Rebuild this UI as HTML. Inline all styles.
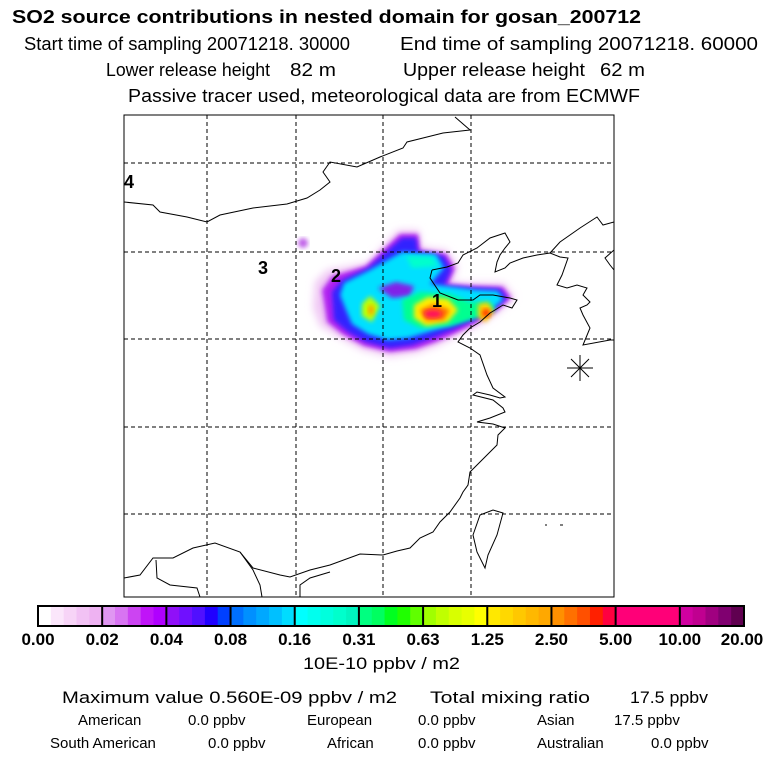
<!DOCTYPE html>
<html><head><meta charset="utf-8">
<style>
body{margin:0;background:#fff;width:768px;height:768px;overflow:hidden;font-family:"Liberation Sans",sans-serif;}
svg{position:absolute;left:0;top:0}
</style></head>
<body>
<svg width="768" height="768" viewBox="0 0 768 768">
<defs>
<filter id="bl" x="-20%" y="-20%" width="140%" height="140%"><feGaussianBlur stdDeviation="2.5"/></filter>
<filter id="bl2" x="-20%" y="-20%" width="140%" height="140%"><feGaussianBlur stdDeviation="4"/></filter>
<clipPath id="mapclip"><rect x="124" y="115" width="490" height="482"/></clipPath>
</defs>
<g font-family="Liberation Sans, sans-serif" fill="#000">
<text x="12" y="23" font-size="18" font-weight="bold" textLength="629" lengthAdjust="spacingAndGlyphs">SO2 source contributions in nested domain for gosan_200712</text>
<text x="24" y="50" font-size="18" textLength="326" lengthAdjust="spacingAndGlyphs">Start time of sampling 20071218. 30000</text>
<text x="400" y="50" font-size="18" textLength="358" lengthAdjust="spacingAndGlyphs">End time of sampling 20071218. 60000</text>
<text x="106" y="76" font-size="18" textLength="164" lengthAdjust="spacingAndGlyphs">Lower release height</text>
<text x="290" y="76" font-size="18" textLength="46" lengthAdjust="spacingAndGlyphs">82 m</text>
<text x="403" y="76" font-size="18" textLength="182" lengthAdjust="spacingAndGlyphs">Upper release height</text>
<text x="600" y="76" font-size="18" textLength="45" lengthAdjust="spacingAndGlyphs">62 m</text>
<text x="128" y="102" font-size="18" textLength="512" lengthAdjust="spacingAndGlyphs">Passive tracer used, meteorological data are from ECMWF</text>
</g>

<g clip-path="url(#mapclip)">
<g>
<polygon filter="url(#bl2)" fill="#f0c8f4" points="315,282 327,270 367,263 398,230 419,230 422,247 447,250 458,267 452,282 470,283 504,283 515,298 498,313 478,326 457,336 437,346 417,353 390,357 362,350 338,337 320,326 313,308"/>
<circle cx="303" cy="243" r="5" fill="#c060e8" filter="url(#bl)"/>
<polygon filter="url(#bl)" fill="#b020f0" points="322,290 332,276 366,266 400,234 418,234 420,250 446,254 455,268 448,284 472,286 503,287 511,298 496,311 476,323 456,333 436,342 416,349 390,352 364,346 342,334 327,322"/>
<polygon filter="url(#bl)" fill="#3020ff" points="332,292 342,280 368,268 402,238 416,238 418,252 444,256 451,270 444,286 474,288 500,289 507,298 494,309 474,320 452,330 432,338 412,345 390,348 366,342 348,332 334,320"/>
<polygon filter="url(#bl)" fill="#00e0ff" points="340,295 344,283 370,270 402,252 436,254 444,268 430,284 476,290 498,291 503,300 488,312 470,318 448,326 428,332 408,338 388,340 368,334 352,324 346,310"/>
<polygon filter="url(#bl)" fill="#8020e8" points="378,288 396,282 414,286 410,296 392,298"/>
<polygon filter="url(#bl)" fill="#00ff90" points="402,300 420,292 450,294 470,302 490,302 496,310 476,318 450,326 420,328 404,320"/>
<polygon filter="url(#bl)" fill="#ffee00" points="414,305 428,297 448,299 458,310 448,322 426,326 414,318"/>
<polygon filter="url(#bl)" fill="#ff7000" points="420,310 434,304 450,310 444,320 426,321"/>
<ellipse cx="433" cy="314" rx="9" ry="4" fill="#ff1060" filter="url(#bl)"/>
<polygon filter="url(#bl)" fill="#ffd000" points="478,304 488,302 494,312 486,322 478,318"/>
<ellipse cx="486" cy="313" rx="4" ry="4" fill="#ff3000" filter="url(#bl)"/>
<polygon filter="url(#bl)" fill="#c0ff00" points="362,304 370,296 380,306 372,322 362,316"/>
<ellipse cx="371" cy="310" rx="3" ry="5" fill="#ffa000" filter="url(#bl)"/>
<polygon filter="url(#bl)" fill="#00ffcc" points="406,256 432,257 438,266 412,268"/>
</g>

<g fill="none" stroke="#000" stroke-width="1">
<polyline points="124,202 153,205 160,212 187,217 207,222 220,215 253,208 287,204 307,198 320,190 330,182 323,172 330,162 357,167 380,157 403,148 407,142 427,137 443,133 470,130 455,117"/>
<polyline points="432,270 447,267 458,263 463,255 477,248 490,238 505,233 510,242 505,248 500,255 497,262 495,272 505,268 510,263 523,258 537,255 550,253 560,257 568,258 562,275 557,285 567,288 577,285 587,288 583,295 590,302 587,305 580,308 583,315 590,328 583,345 610,340 614,340"/>
<polyline points="550,253 560,242 580,228 597,217 603,225 614,222"/>
<polyline points="614,250 605,258 610,265 614,270"/>
<polyline points="432,270 430,278 440,293 458,300 473,300 480,295 493,295 510,298 517,300 512,308 503,305 495,310 490,313 480,322 470,328 463,335 458,342 470,348 480,355 487,375 493,388 505,397 500,398 490,395 477,392 473,395 493,400 503,408 505,412 490,418 477,422 493,424 505,428 498,435 497,445 490,452 480,462 470,472 468,485 463,492 460,498 450,512 440,522 433,532 420,538 410,548 397,551 383,555 360,554 330,565 310,570 290,577 280,575 253,568 240,552 215,543 193,548 173,558 153,558 140,575 124,578"/>
<polygon points="480,515 493,510 503,513 497,535 488,555 485,568 477,552 473,535"/>
<polyline points="156,560 157,578 170,585 197,588 200,597"/>
<polyline points="240,552 253,570 260,585 262,597"/>
<polyline points="300,597 300,585 310,578 330,572"/>
<path d="M627,455 l3,-8 l4,2 l-3,7 z M560,525 l3,0 M545,525 l2,0 M628,345 l2,2 M632,378 l3,-3"/>
</g>

<g stroke="#000" stroke-width="1" stroke-dasharray="4,3">
<line x1="207" y1="115" x2="207" y2="597"/><line x1="296" y1="115" x2="296" y2="597"/>
<line x1="383" y1="115" x2="383" y2="597"/><line x1="471" y1="115" x2="471" y2="597"/>
<line x1="124" y1="163" x2="614" y2="163"/><line x1="124" y1="252" x2="614" y2="252"/>
<line x1="124" y1="339" x2="614" y2="339"/><line x1="124" y1="427" x2="614" y2="427"/>
<line x1="124" y1="514" x2="614" y2="514"/>
</g>

<g stroke="#000" stroke-width="1">
<line x1="567" y1="368" x2="593" y2="368"/><line x1="580" y1="355" x2="580" y2="381"/>
<line x1="571" y1="359" x2="589" y2="377"/><line x1="589" y1="359" x2="571" y2="377"/>
</g>

<g font-family="Liberation Sans, sans-serif" font-size="18" font-weight="bold">
<text x="432" y="307">1</text>
<text x="331" y="282">2</text>
<text x="258" y="274">3</text>
<text x="124" y="188">4</text>
</g>
</g>
<rect x="124" y="115" width="490" height="482" fill="none" stroke="#000" stroke-width="1"/>

<g id="cbar"></g>

<g font-family="Liberation Sans, sans-serif" fill="#000">
<text x="303" y="669" font-size="17" textLength="157" lengthAdjust="spacingAndGlyphs">10E-10 ppbv / m2</text>
<text x="62" y="703" font-size="17" textLength="335" lengthAdjust="spacingAndGlyphs">Maximum value  0.560E-09 ppbv / m2</text>
<text x="430" y="703" font-size="17" textLength="160" lengthAdjust="spacingAndGlyphs">Total mixing ratio</text>
<text x="630" y="703" font-size="17" textLength="78" lengthAdjust="spacingAndGlyphs">17.5 ppbv</text>
<g font-size="15">
<text x="78" y="725">American</text>
<text x="188" y="725">0.0 ppbv</text>
<text x="307" y="725">European</text>
<text x="418" y="725">0.0 ppbv</text>
<text x="537" y="725">Asian</text>
<text x="614" y="725">17.5 ppbv</text>
<text x="50" y="748">South American</text>
<text x="208" y="748">0.0 ppbv</text>
<text x="327" y="748">African</text>
<text x="418" y="748">0.0 ppbv</text>
<text x="537" y="748">Australian</text>
<text x="651" y="748">0.0 ppbv</text>
</g>
</g>
</svg>
<script>
const tickLabels = ["0.00","0.02","0.04","0.08","0.16","0.31","0.63","1.25","2.50","5.00","10.00","20.00"];
const segColors = [
 ["#ffffff","#fbe6fb","#f7d4f7","#f2c2f4","#eeb2f2"],
 ["#e096f2","#d874f2","#cc44f2","#c014f8","#b000ff"],
 ["#9010f8","#7010ff","#5010ff","#2000ff","#0040ff"],
 ["#0070ff","#0090ff","#00a8ff","#00c0ff","#00dcff"],
 ["#00ffff","#00ffee","#00ffdd","#00ffcc","#00f5c0"],
 ["#00ff80","#00ff60","#00ff20","#20ff00","#60ff00"],
 ["#a0ff00","#c0ff00","#d8ff00","#e8ff00","#ffff00"],
 ["#ffe800","#ffd800","#ffc800","#ffb800","#ffa800"],
 ["#ff9000","#ff7000","#ff5000","#ff2000","#ff0040"],
 ["#ff0078","#ff0078","#ff0078","#ff0078","#ff0078"],
 ["#d000a0","#c00090","#a00080","#800070","#600050"]
];
const NS="http://www.w3.org/2000/svg";
const g=document.getElementById('cbar');
const x0=38,x1=744,y0=606,h=20;
const segW=(x1-x0)/segColors.length;
segColors.forEach((cols,i)=>{
  cols.forEach((c,j)=>{
    const r=document.createElementNS(NS,'rect');
    r.setAttribute('x',x0+i*segW+j*segW/cols.length);
    r.setAttribute('y',y0);
    r.setAttribute('width',segW/cols.length+0.6);
    r.setAttribute('height',h);
    r.setAttribute('fill',c);
    
    
    g.appendChild(r);
  });
});
for(let i=0;i<=segColors.length;i++){
  const l=document.createElementNS(NS,'line');
  const x=x0+i*segW;
  l.setAttribute('x1',x);l.setAttribute('x2',x);l.setAttribute('y1',y0);l.setAttribute('y2',y0+h);
  l.setAttribute('stroke','#000');l.setAttribute('stroke-width','2');
  
  
  g.appendChild(l);
}
const fr=document.createElementNS(NS,'rect');
fr.setAttribute('x',x0);fr.setAttribute('y',y0);fr.setAttribute('width',x1-x0);fr.setAttribute('height',h);
fr.setAttribute('fill','none');fr.setAttribute('stroke','#000');fr.setAttribute('stroke-width','2');


g.appendChild(fr);
tickLabels.forEach((t,i)=>{
  const tx=document.createElementNS(NS,'text');
  let x=x0+i*segW;
  tx.setAttribute('x',Math.min(Math.max(x,22),742));
  tx.setAttribute('y',645);
  tx.setAttribute('text-anchor','middle');
  tx.setAttribute('font-size','17');
  tx.setAttribute('font-weight','bold');
  tx.setAttribute('font-family','Liberation Sans, sans-serif');
  tx.textContent=t;
  
  
  g.appendChild(tx);
});
</script>
</body></html>
